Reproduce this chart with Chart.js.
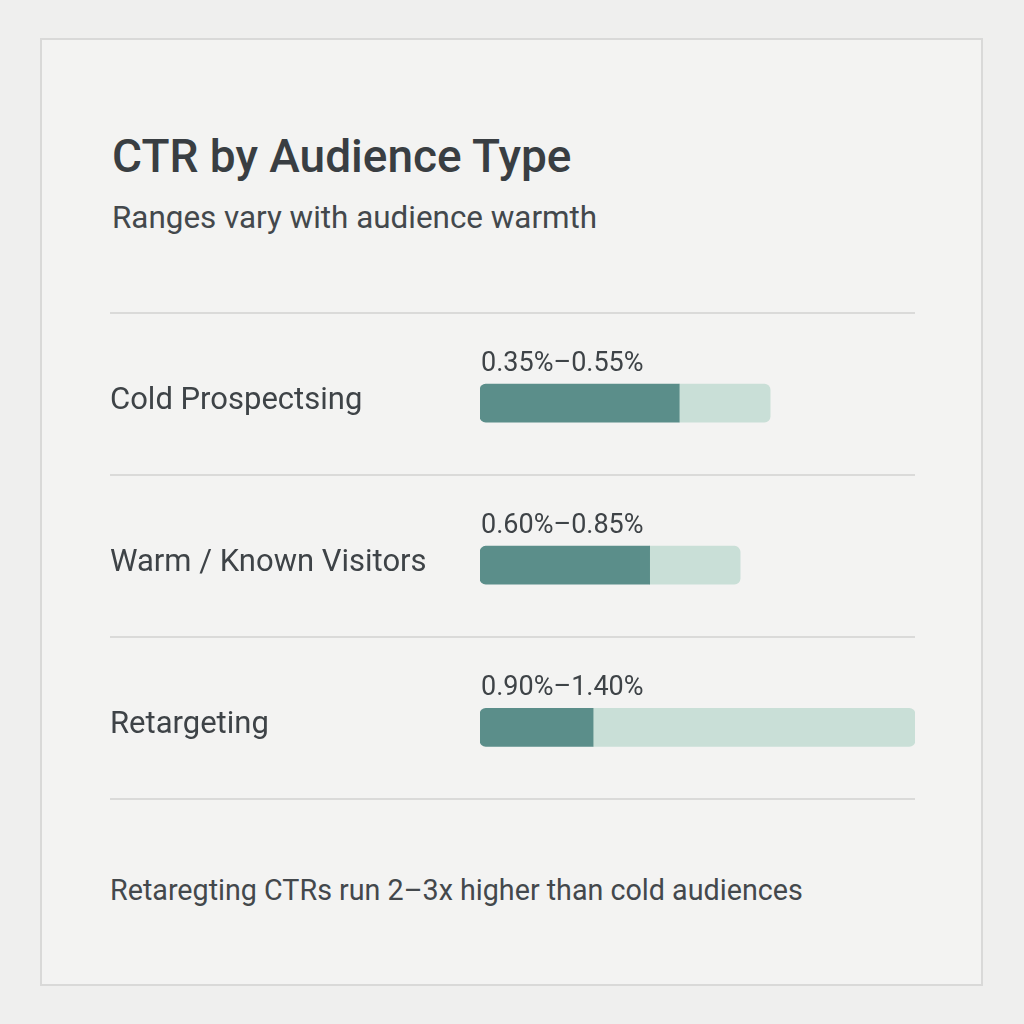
<!DOCTYPE html>
<html>
<head>
<meta charset="utf-8">
<script src="https://cdn.jsdelivr.net/npm/chart.js@4.4.1/dist/chart.umd.min.js"></script>
<style>
  html, body { margin:0; padding:0; width:1024px; height:1024px; background:#efefee; overflow:hidden; }
  body { position:relative; font-family: Roboto, "Noto Sans", sans-serif; color:#3b4044; }
  .card { position:absolute; left:40px; top:38px; width:939px; height:944px; border:2px solid #d9d9d8; background:#f3f3f2; }
  .t { position:absolute; left:112px; line-height:1; white-space:nowrap; margin:0; }
  #title { top:133px; font-size:46px; font-weight:500; color:#393e42; }
  #subtitle { top:202px; font-size:31.4px; font-weight:400; color:#43484c; }
  #footer { top:876px; left:110px; font-size:28.7px; font-weight:400; color:#43484c; }
  #wrap { position:absolute; left:110px; top:300px; width:805px; height:530px; }
</style>
</head>
<body>
<div class="card"></div>
<h1 class="t" id="title">CTR by Audience Type</h1>
<p class="t" id="subtitle">Ranges vary with audience warmth</p>
<div id="wrap"><canvas id="c" width="805" height="530"></canvas></div>
<p class="t" id="footer">Retaregting CTRs run 2–3x higher than cold audiences</p>
<script>
// ---- data ----
const categories = ['Cold Prospectsing', 'Warm / Known Visitors', 'Retargeting'];
const rangeLow = [0.35, 0.60, 0.90];
const rangeHigh = [0.55, 0.85, 1.40];
// bar lengths, in % of the full row width
const fillShare = [45.8, 39.0, 26.0];
const trackShare = [66.7, 59.8, 100];

const rangeLabels = rangeLow.map((lo, i) => lo.toFixed(2) + '%–' + rangeHigh[i].toFixed(2) + '%');
const restShare = trackShare.map((t, i) => t - fillShare[i]);

const DARK = '#5b8e8a';
const LIGHT = '#c9dfd7';
const TEXT = '#3e4347';
const SEP_SHIFT = 9;

const separators = {
  id: 'separators',
  beforeDatasetsDraw(chart) {
    const y = chart.scales.y;
    const ctx = chart.ctx;
    ctx.save();
    ctx.strokeStyle = '#dadad9';
    ctx.lineWidth = 2;
    for (let i = 0; i <= categories.length; i++) {
      const py = Math.round(y.getPixelForValue(i - 0.5)) - SEP_SHIFT;
      ctx.beginPath();
      ctx.moveTo(y.left, py);
      ctx.lineTo(chart.chartArea.right, py);
      ctx.stroke();
    }
    ctx.restore();
  }
};

const rangeText = {
  id: 'rangeText',
  afterDatasetsDraw(chart) {
    const meta = chart.getDatasetMeta(0);
    const ctx = chart.ctx;
    ctx.save();
    ctx.font = '400 27px Roboto, "Noto Sans", sans-serif';
    ctx.fillStyle = TEXT;
    ctx.textAlign = 'left';
    ctx.textBaseline = 'alphabetic';
    meta.data.forEach((el, i) => {
      const p = el.getProps(['x', 'y', 'base', 'height'], true);
      ctx.fillText(rangeLabels[i], p.base + 1, p.y - p.height / 2 - 13);
    });
    ctx.restore();
  }
};

new Chart(document.getElementById('c'), {
  type: 'bar',
  data: {
    labels: categories,
    datasets: [
      {
        data: fillShare,
        backgroundColor: DARK,
        borderRadius: { topLeft: 6, bottomLeft: 6, topRight: 0, bottomRight: 0 },
        borderSkipped: false,
        barThickness: 38
      },
      {
        data: restShare,
        backgroundColor: LIGHT,
        borderRadius: { topLeft: 0, bottomLeft: 0, topRight: 6, bottomRight: 6 },
        borderSkipped: false,
        barThickness: 38
      }
    ]
  },
  options: {
    indexAxis: 'y',
    responsive: false,
    animation: false,
    events: [],
    devicePixelRatio: 1,
    layout: { padding: { top: 22, bottom: 20, left: 0, right: 0 } },
    plugins: { legend: { display: false }, tooltip: { enabled: false }, title: { display: false } },
    scales: {
      x: { display: false, stacked: true, min: 0, max: 100 },
      y: {
        stacked: true,
        offset: true,
        grid: { display: false },
        border: { display: false },
        afterFit(scale) { scale.width = 370; },
        ticks: {
          crossAlign: 'far',
          labelOffset: -2,
          color: TEXT,
          font: { family: 'Roboto, "Noto Sans", sans-serif', size: 31, weight: '400' }
        }
      }
    }
  },
  plugins: [separators, rangeText]
});
</script>
</body>
</html>
